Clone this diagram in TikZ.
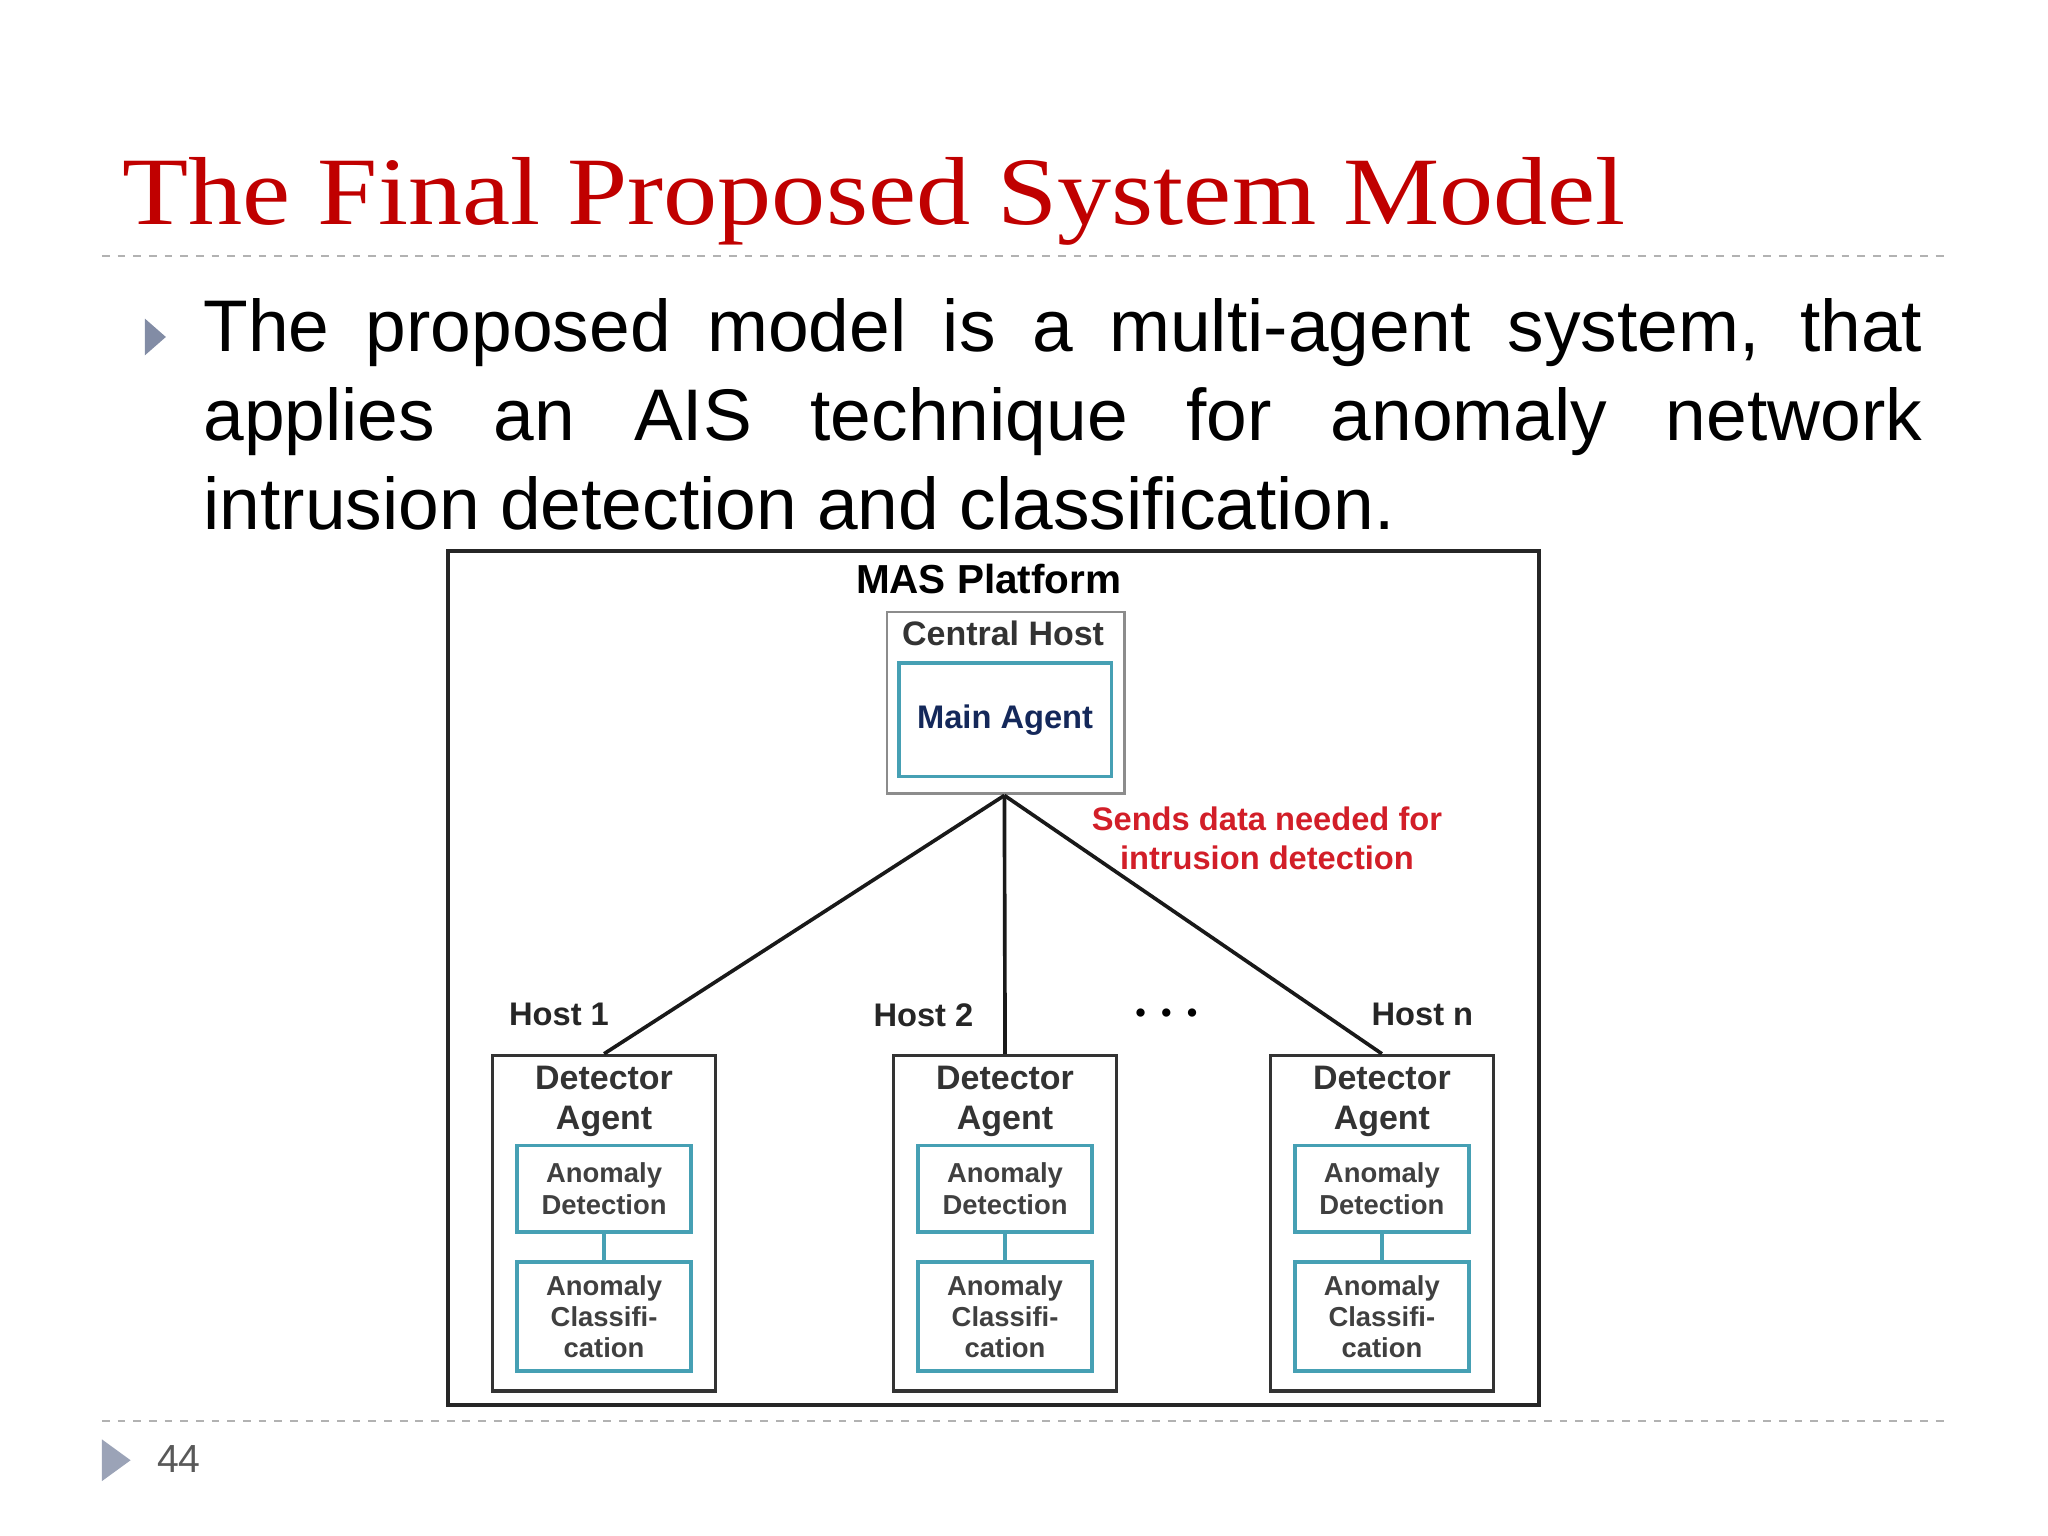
\documentclass[tikz,border=0pt]{standalone}
\usepackage{fontspec}
\setmainfont{Liberation Serif}
\newfontfamily\arialf{Liberation Sans}
\usetikzlibrary{positioning}
\definecolor{titlered}{RGB}{192,0,0}
\definecolor{boxteal}{RGB}{70,160,180}
\definecolor{navy}{RGB}{20,40,90}
\definecolor{sendred}{RGB}{210,30,40}
\definecolor{bulletgrey}{RGB}{130,140,165}
\tikzset{every picture/.style={line width=0.75pt}}
\tikzset{
  det/.style={draw=black!80, line width=1.2pt, minimum width=85.5pt, minimum height=128.5pt},
  inner/.style={draw=boxteal, line width=1.5pt, minimum width=66.5pt, align=center, font=\arialf\bfseries\fontsize{10.5}{12}\selectfont, text=black!75, inner sep=1pt},
  host/.style={font=\arialf\bfseries\fontsize{12.5}{14}\selectfont, text=black!85},
  dlbl/.style={font=\arialf\bfseries\fontsize{13}{15.5}\selectfont, text=black!80, align=center},
}
\begin{document}
\begin{tikzpicture}[x=0.5pt,y=0.5pt,yscale=-1,xscale=1]
\useasboundingbox (0,0) rectangle (1568,1176);
%title
\node[anchor=base west, inner sep=0pt, text=titlered, font=\fontsize{37}{40}\selectfont] (title) at (93,172) {\scalebox{1.12}[1]{The Final Proposed System Model}};
\draw[gray!60, dashed, line width=0.6pt] (78,196) -- (1490,196);
%bullet text
\fill[bulletgrey] (111,244) -- (127,258) -- (111,272) -- cycle;
\node[anchor=north west, inner sep=0pt, text width=658pt, align=justify, font=\arialf\fontsize{28}{34}\selectfont] (body) at (155,228) {\hyphenpenalty=10000 The proposed model is a multi-agent system, that\linebreak applies an AIS technique for anomaly network\linebreak intrusion detection and classification.};
%platform
\draw[line width=1.6pt, black!85] (343,422) rectangle (1178,1076);
\node[font=\arialf\bfseries\fontsize{15.5}{18}\selectfont] (mas) at (757,443) {MAS Platform};
\node[draw=black!45, line width=1pt, minimum width=91pt, minimum height=69.5pt] (central) at (770,538) {};
\node[font=\arialf\bfseries\fontsize{13}{15}\selectfont, text=black!80] (chlbl) at (768,485) {Central Host};
\node[draw=boxteal, line width=1.5pt, minimum width=81.5pt, minimum height=43.5pt, font=\arialf\bfseries\fontsize{12.5}{15}\selectfont, text=navy] (main) at (769.5,551) {Main Agent};
\coordinate (hub) at (769,609);
\node[font=\arialf\bfseries\fontsize{12.5}{15}\selectfont, text=sendred, align=center] (sends) at (970,642) {Sends data needed for\\intrusion detection};
%hosts
\foreach \i/\x/\lbl/\lx in {1/462.5/Host 1/428, 2/769.5/Host 2/707, 3/1058/Host n/1089}{
  \node[det] (det\i) at (\x,936.5) {};
  \node[dlbl, below=1pt of det\i.north] (dl\i) {Detector\\Agent};
  \node[inner, minimum height=33pt] (ad\i) at (\x,910) {Anomaly\\Detection};
  \node[inner, minimum height=41.5pt] (ac\i) at (\x,1008) {Anomaly\\Classifi-\\cation};
  \draw[boxteal, line width=1.5pt] (ad\i) -- (ac\i);
  \node[host] (h\i) at (\lx,777) {\lbl};
  \draw[black!90, line width=1.4pt] (hub) -- (det\i.north);
}
\node[font=\arialf\bfseries\fontsize{11}{11}\selectfont] (dots) at (893,778) {\textbullet\hspace{6pt}\textbullet\hspace{6pt}\textbullet};
%footer
\draw[gray!60, dashed, line width=0.6pt] (78,1088) -- (1490,1088);
\fill[bulletgrey!80] (78,1102) -- (100,1118) -- (78,1134) -- cycle;
\node[font=\arialf\fontsize{15}{18}\selectfont, text=black!65] (page) at (137,1117) {44};
\end{tikzpicture}
\end{document}
